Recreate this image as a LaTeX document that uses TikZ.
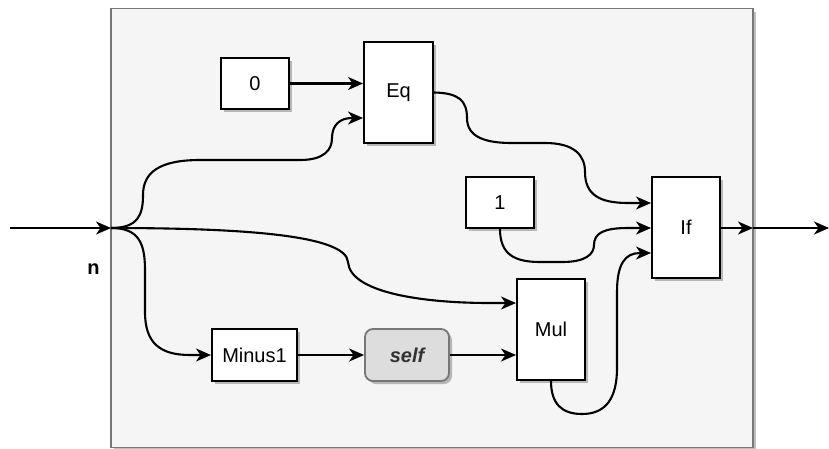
\documentclass[tikz,border=0pt]{standalone}
\usepackage{fontspec}
\setmainfont{Liberation Sans}
\usetikzlibrary{arrows.meta,shadows}
\definecolor{panelfill}{HTML}{F5F5F5}
\definecolor{panelline}{HTML}{777777}
\definecolor{selffill}{HTML}{DDDDDD}
\definecolor{selftext}{HTML}{333333}
\begin{document}
\begin{tikzpicture}[x=1pt,y=-1pt,
  font=\fontsize{20}{24}\selectfont,
  shad/.style={drop shadow={shadow xshift=3pt,shadow yshift=-3pt,fill=black,opacity=0.25}},
  blockbox/.style={draw=black,line width=2pt,fill=white,shad,inner sep=0pt},
  selfbox/.style={draw=panelline,line width=1.8pt,fill=selffill,rounded corners=8pt,shad,inner sep=0pt,
    text=selftext,font=\fontsize{20}{24}\selectfont\bfseries\itshape},
  wire/.style={line width=2.1pt,-{Stealth[length=15pt,width=13pt,inset=4.5pt]}}]
\useasboundingbox (0,0) rectangle (829,448);
% container
\node[draw=panelline,line width=1.8pt,fill=panelfill,shad,minimum width=642pt,minimum height=439pt,inner sep=0pt]
  (box) at (432,228) {};
% blocks
\node[blockbox,minimum width=68pt,minimum height=51pt] (zero) at (255,83.5) {0};
\node[blockbox,minimum width=69pt,minimum height=101pt] (eq) at (398.5,92.5) {Eq};
\node[blockbox,minimum width=68pt,minimum height=51pt] (one) at (500,202.5) {1};
\node[blockbox,minimum width=68pt,minimum height=101pt] (iff) at (686,227.5) {If};
\node[blockbox,minimum width=85pt,minimum height=52pt] (minus) at (254.5,355) {Minus1};
\node[selfbox,minimum width=84pt,minimum height=52pt] (self) at (407,355) {self};
\node[blockbox,minimum width=68pt,minimum height=101pt] (mul) at (551,329.5) {Mul};
\node[font=\fontsize{20}{24}\selectfont\bfseries] (nlbl) at (93.5,269) {n};
\coordinate (src) at (10,228);
\coordinate (nin) at (111,228);
\coordinate (pout) at (753,228);
\coordinate (dst) at (829,228);
% input / output
\draw[wire] (src) -- (nin);
\draw[wire] (iff.east |- 0,228) -- (pout);
\draw[wire] (pout) -- (dst);
% straight edges
\draw[wire] (zero.east) -- (eq.west |- 0,83.5);
\draw[wire] (minus.east) -- (self.west);
\draw[wire] (self.east) -- (mul.west |- 0,355);
% n -> Eq
\draw[wire] (nin) .. controls (138,228) and (143,215) .. (143,195)
  .. controls (143,172) and (160,160) .. (200,160) -- (300,160)
  .. controls (324,160) and (332,150) .. (332,138)
  .. controls (332,125) and (340,118) .. (352,118) -- (eq.west |- 0,118);
% n -> Mul
\draw[wire] (nin) .. controls (250,228) and (346,236) .. (348,262)
  .. controls (350,292) and (420,303) .. (490,303) -- (mul.west |- 0,303);
% n -> Minus1
\draw[wire] (nin) .. controls (138,228) and (145,242) .. (145,270) -- (145,312)
  .. controls (145,343) and (160,355) .. (190,355) -- (minus.west);
% Eq -> If
\draw[wire] (eq.east) .. controls (458,93) and (467,100) .. (467,118)
  .. controls (467,137) and (485,143) .. (512,143) -- (545,143)
  .. controls (574,143) and (585,155) .. (585,172)
  .. controls (585,195) and (600,203) .. (628,203) -- (iff.west |- 0,203);
% 1 -> If
\draw[wire] (one.south) .. controls (500,254) and (514,262) .. (540,262) -- (562,262)
  .. controls (586,262) and (594,254) .. (594,245)
  .. controls (594,233) and (604,228) .. (628,228) -- (iff.west |- 0,228);
% Mul -> If
\draw[wire] (mul.south) .. controls (551,404) and (562,414) .. (582,414)
  .. controls (606,414) and (617,398) .. (617,368) -- (617,292)
  .. controls (617,264) and (625,253) .. (640,253) -- (iff.west |- 0,253);
\end{tikzpicture}
\end{document}
